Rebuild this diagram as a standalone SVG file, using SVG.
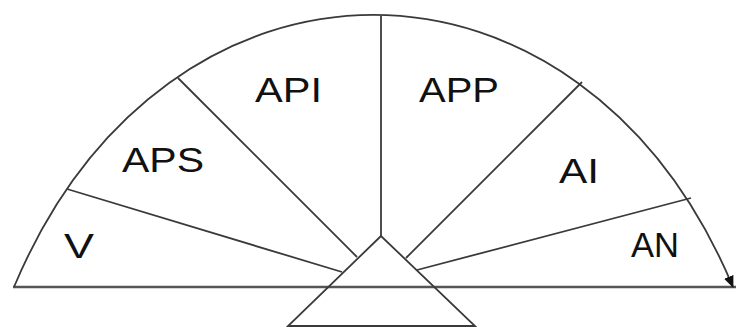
<svg xmlns="http://www.w3.org/2000/svg" width="736" height="327" viewBox="0 0 736 327">
  <style>
    .line { fill: none; stroke: #3a3a3a; stroke-width: 1.8; }
    .base { fill: none; stroke: #555; stroke-width: 2.6; }
    .lbl { font-family: "Liberation Sans", Arial, sans-serif; font-size: 35px; fill: #111; }
  </style>
  <defs>
    <marker id="arrow" viewBox="0 0 12 10" refX="11" refY="5" markerWidth="12" markerHeight="10" markerUnits="userSpaceOnUse" orient="auto">
      <path d="M0,0 L12,5 L0,10 Z" fill="#111"/>
    </marker>
  </defs>
  <rect width="736" height="327" fill="#ffffff"/>

  <g id="connectors">
    <!-- ground line -->
    <path class="base" d="M13,287 L736,287"/>
    <!-- outer arc -->
    <path class="line" d="M14,287 C166,-75.7 581,-75.7 733,287" marker-end="url(#arrow)"/>
    <!-- sector dividers -->
    <path class="line" d="M381,16 L381,236"/>
    <path class="line" d="M67,189 L342,272"/>
    <path class="line" d="M178,78 L357,257"/>
    <path class="line" d="M582,82 L406,258"/>
    <path class="line" d="M691,198 L417,270"/>
  </g>

  <g id="pivot">
    <path class="line" d="M381,236 L288,326 L475,326 Z"/>
  </g>

  <g id="sector-v"><text class="lbl" x="64" y="258" textLength="30" lengthAdjust="spacingAndGlyphs">V</text></g>
  <g id="sector-aps"><text class="lbl" x="122" y="172" textLength="82" lengthAdjust="spacingAndGlyphs">APS</text></g>
  <g id="sector-api"><text class="lbl" x="255" y="102" textLength="67" lengthAdjust="spacingAndGlyphs">API</text></g>
  <g id="sector-app"><text class="lbl" x="419" y="102" textLength="80" lengthAdjust="spacingAndGlyphs">APP</text></g>
  <g id="sector-ai"><text class="lbl" x="559" y="183" textLength="40" lengthAdjust="spacingAndGlyphs">AI</text></g>
  <g id="sector-an"><text class="lbl" x="631" y="257" textLength="48" lengthAdjust="spacingAndGlyphs">AN</text></g>
</svg>
